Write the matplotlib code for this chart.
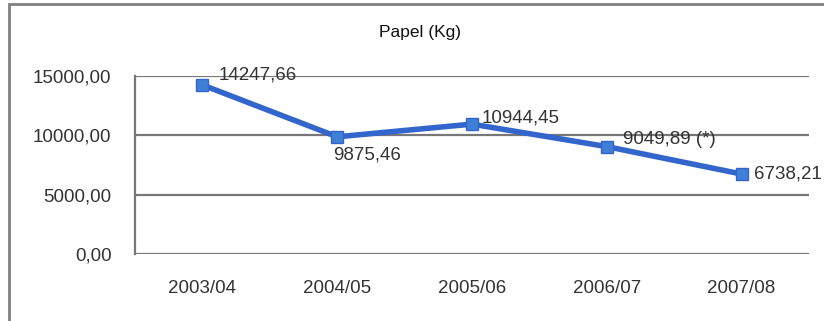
import matplotlib.pyplot as plt
from matplotlib.patches import Rectangle

# Datos
anos = ['2003/04', '2004/05', '2005/06', '2006/07', '2007/08']
papel = [14247.66, 9875.46, 10944.45, 9049.89, 6738.21]
etiquetas = ['14247,66', '9875,46', '10944,45', '9049,89 (*)', '6738,21']
y_ticks = [0, 5000, 10000, 15000]
y_labels = ['0,00', '5000,00', '10000,00', '15000,00']

plt.rcParams['font.family'] = ['Liberation Sans', 'DejaVu Sans']

fig = plt.figure(figsize=(8.24, 3.21), dpi=100)
ax = fig.add_axes([135 / 824, 1 - 254 / 321, 674 / 824, 178 / 321])

x = list(range(len(anos)))
ax.plot(x, papel, color='#3366CC', linewidth=4, marker='s', markersize=9,
        markerfacecolor='#3F7FD6', markeredgecolor='#3366CC', zorder=3)

# rejilla horizontal
for t in y_ticks:
    ax.axhline(t, color='#777777', linewidth=1.6, zorder=1)

ax.set_xlim(-0.5, len(anos) - 0.5)
ax.set_ylim(0, 15000)
ax.set_xticks(x)
ax.set_xticklabels(anos)
ax.set_yticks(y_ticks)
ax.set_yticklabels(y_labels)
ax.tick_params(length=0, labelsize=13.5, labelcolor='#333333')
ax.tick_params(axis='y', pad=17)
ax.tick_params(axis='x', pad=19)

for s in ['top', 'right', 'bottom']:
    ax.spines[s].set_visible(False)
ax.spines['left'].set_color('#777777')
ax.spines['left'].set_linewidth(1.6)

# etiquetas de valores (desplazamiento en pixeles)
offsets = [(16, 10, 'left', 'center'), (-4, -18, 'left', 'center'),
           (10, 6, 'left', 'center'), (16, 7, 'left', 'center'),
           (12, 0, 'left', 'center')]
for xi, yi, txt, (dx, dy, ha, va) in zip(x, papel, etiquetas, offsets):
    ax.annotate(txt, xy=(xi, yi), xytext=(dx, dy), textcoords='offset pixels',
                ha=ha, va=va, fontsize=13.5, color='#333333', zorder=4)

fig.text(420 / 824, 1 - 33 / 321, 'Papel (Kg)', ha='center', va='center',
         fontsize=12.5, color='#111111')

# marco exterior
fig.patches.append(Rectangle((9 / 824, -0.1), 1.2, 1.1 - 4 / 321, transform=fig.transFigure,
                             fill=False, edgecolor='#808080', linewidth=2))

fig.savefig('out.png', dpi=100)
